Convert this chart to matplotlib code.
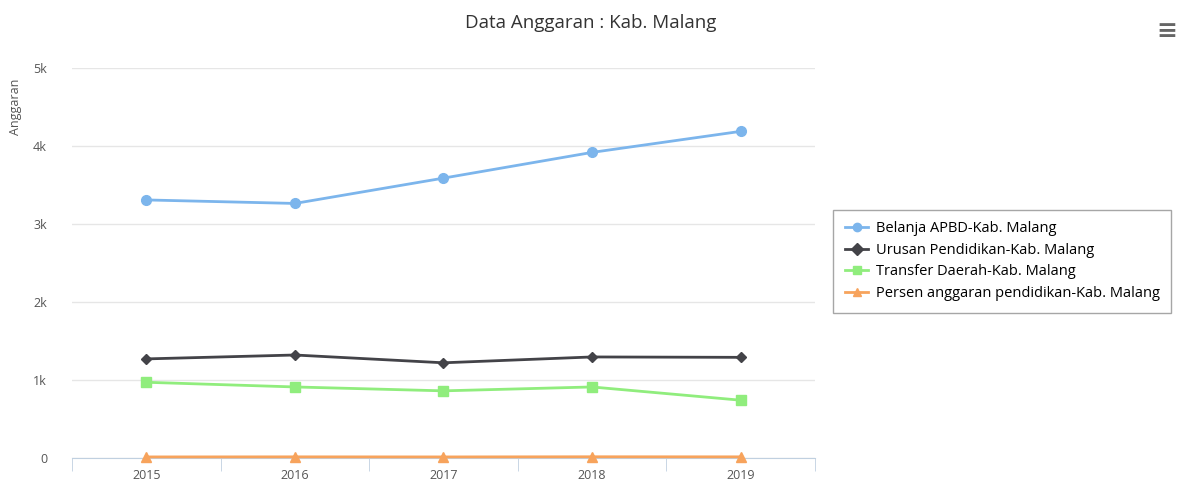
import numpy as np
import matplotlib.pyplot as plt

plt.rcParams['font.family'] = ['Open Sans', 'DejaVu Sans']

years = ['2015', '2016', '2017', '2018', '2019']
belanja = [3310, 3265, 3590, 3920, 4190]
urusan = [1270, 1320, 1220, 1295, 1290]
transfer = [970, 910, 860, 910, 740]
persen = [12, 13, 12, 14, 13]

fig = plt.figure(figsize=(11.81, 4.84), dpi=100)
ax = fig.add_axes([0.061, 0.054, 0.629, 0.805])

x = np.arange(len(years))
ax.plot(x, belanja, color='#7cb5ec', lw=2, marker='o', ms=7, label='Belanja APBD-Kab. Malang')
ax.plot(x, urusan, color='#434348', lw=2, marker='D', ms=5.5, label='Urusan Pendidikan-Kab. Malang')
ax.plot(x, transfer, color='#90ed7d', lw=2, marker='s', ms=7, label='Transfer Daerah-Kab. Malang')
ax.plot(x, persen, color='#f7a35c', lw=2, marker='^', ms=7, label='Persen anggaran pendidikan-Kab. Malang',
        clip_on=False, zorder=5)

ax.set_xlim(-0.5, 4.5)
ax.set_ylim(0, 5000)
ax.set_yticks([0, 1000, 2000, 3000, 4000, 5000])
ax.set_yticklabels(['0', '1k', '2k', '3k', '4k', '5k'])
ax.set_xticks(x)
ax.set_xticklabels(years)
ax.set_xticks(np.arange(-0.5, 5, 1), minor=True)
ax.tick_params(axis='x', which='major', length=0, pad=8, labelsize=9, colors='#555555')
ax.tick_params(axis='x', which='minor', length=9, color='#c0d0e0', direction='out')
ax.tick_params(axis='y', length=0, pad=18, labelsize=9, colors='#555555')
ax.grid(axis='y', color='#e6e6e6', lw=1)
ax.set_axisbelow(True)
for s in ['top', 'right', 'left']:
    ax.spines[s].set_visible(False)
ax.spines['bottom'].set_color('#c0d0e0')

ax.set_ylabel('Anggaran', fontsize=9, color='#555555', labelpad=10)
ax.yaxis.set_label_coords(-0.068, 0.9)

fig.text(0.5, 0.953, 'Data Anggaran : Kab. Malang', ha='center', va='center', fontsize=13.5, color='#333333')
fig.text(0.988, 0.935, '\u2261', ha='center', va='center', fontsize=18, color='#666666', fontweight='bold')

leg = ax.legend(loc='center left', bbox_to_anchor=(1.015, 0.505), frameon=True, fancybox=False,
                fontsize=10.5, handlelength=1.6, handletextpad=0.5, labelspacing=0.45,
                borderpad=0.8, shadow=False)
leg.get_frame().set_edgecolor('#909090')
leg.get_frame().set_linewidth(1)
for h in leg.get_lines():
    h.set_markersize(6)

fig.savefig('out.png', dpi=100)
